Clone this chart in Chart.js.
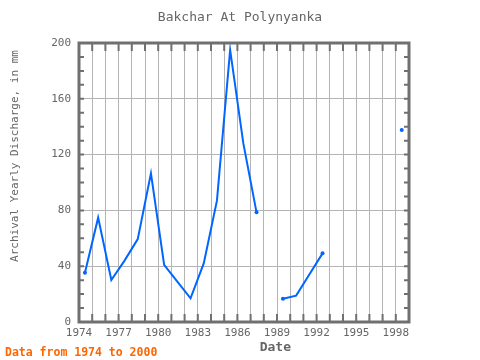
<!DOCTYPE html>
<html>
<head>
<meta charset="utf-8">
<script src="https://cdn.jsdelivr.net/npm/chart.js@4.4.0/dist/chart.umd.min.js"></script>
<style>html,body{margin:0;background:#fff}</style>
</head>
<body>
<canvas id="chart" width="480" height="360"></canvas>
<script>
// values (mid-year dates)
const years = [1974.45, 1975.45, 1976.45, 1977.45, 1978.45, 1979.45, 1980.45, 1981.45,
    1982.45, 1983.45, 1984.45, 1985.45, 1986.45, 1987.45, 1988.45, 1989.45, 1990.45,
    1991.45, 1992.45, 1993.45, 1998.45];
const discharge = [35.3, 74.8, 30.1, 44, 59.4, 106.6, 40.9, 29,
    17, 42, 87, 195, 128, 78.6, null, 16.7, 18.9,
    34, 49.2, null, 137.6];
const xTickLabels = [1974, 1977, 1980, 1983, 1986, 1989, 1992, 1995, 1998];
const yTicks = [0, 40, 80, 120, 160, 200];

const gray = '#666666';
const frameColor = '#707070';
const lineColor = '#0066ff';

Chart.defaults.font.family = '"DejaVu Sans Mono", monospace';

// border, inner tick marks and the footnote
const frame = {
    id: 'frame',
    afterDatasetsDraw(chart) {
        const { ctx, chartArea: a, scales: { x, y } } = chart;
        ctx.save();
        ctx.strokeStyle = frameColor;
        ctx.lineWidth = 2;
        ctx.beginPath();
        for (let yr = 1975; yr < 1999; yr++) {
            const px = x.getPixelForValue(yr);
            ctx.moveTo(px, a.top); ctx.lineTo(px, a.top + 8);
            ctx.moveTo(px, a.bottom); ctx.lineTo(px, a.bottom - 8);
        }
        for (let v = 10; v < 200; v += 10) {
            const py = y.getPixelForValue(v);
            ctx.moveTo(a.left, py); ctx.lineTo(a.left + 5, py);
            ctx.moveTo(a.right, py); ctx.lineTo(a.right - 5, py);
        }
        ctx.stroke();
        ctx.lineWidth = 3;
        ctx.strokeRect(a.left, a.top, a.right - a.left, a.bottom - a.top);

        ctx.fillStyle = '#ff6600';
        ctx.font = 'bold 11.5px "DejaVu Sans Mono"';
        ctx.textBaseline = 'alphabetic';
        ctx.fillText('Data from 1974 to 2000', 5, 356);
        ctx.restore();
    }
};

const points = years.map((yr, i) => ({ x: yr, y: discharge[i] }));

// only show a dot where a line segment starts or ends
function endRadius(c) {
    const i = c.dataIndex;
    const prev = discharge[i - 1], next = discharge[i + 1];
    return (prev == null || next == null) ? 2 : 0;
}

new Chart(document.getElementById('chart'), {
    type: 'line',
    data: {
        datasets: [{
            data: points,
            borderColor: lineColor,
            backgroundColor: lineColor,
            borderWidth: 2,
            pointRadius: endRadius,
            pointBorderWidth: 0,
            pointBackgroundColor: lineColor,
            tension: 0,
            spanGaps: false
        }]
    },
    options: {
        responsive: false,
        animation: false,
        layout: { padding: 0 },
        plugins: {
            legend: { display: false },
            tooltip: { enabled: false },
            title: {
                display: true,
                text: 'Bakchar At Polynyanka',
                color: gray,
                font: { size: 13, weight: 'normal' },
                padding: { top: 10, bottom: 17.4 }
            }
        },
        scales: {
            x: {
                type: 'linear',
                min: 1974,
                max: 1999,
                afterFit: s => { s.height = 38; },
                border: { display: false },
                grid: { color: '#b4b4b4', lineWidth: 1, drawTicks: false },
                ticks: {
                    stepSize: 1,
                    autoSkip: false,
                    maxRotation: 0,
                    padding: 5,
                    color: gray,
                    font: { size: 11 },
                    callback: v => xTickLabels.includes(v) ? String(v) : ''
                },
                title: {
                    display: true,
                    text: '        Date',
                    color: gray,
                    font: { size: 13, weight: 'bold' },
                    padding: { top: 0, bottom: 5 }
                }
            },
            y: {
                min: 0,
                max: 200,
                afterFit: s => { s.width = 79; },
                border: { display: false },
                grid: { color: '#b4b4b4', lineWidth: 1, drawTicks: false },
                afterBuildTicks: s => { s.ticks = yTicks.map(v => ({ value: v })); },
                ticks: {
                    padding: 8,
                    color: gray,
                    font: { size: 11 }
                },
                title: {
                    display: true,
                    text: '        Archival Yearly Discharge, in mm',
                    color: gray,
                    font: { size: 11 },
                    padding: { top: 9, bottom: 0 }
                }
            },
            y2: {
                position: 'right',
                min: 0,
                max: 200,
                afterFit: s => { s.width = 71; },
                border: { display: false },
                grid: { display: false },
                ticks: { display: false }
            }
        }
    },
    plugins: [frame]
});
</script>
</body>
</html>
